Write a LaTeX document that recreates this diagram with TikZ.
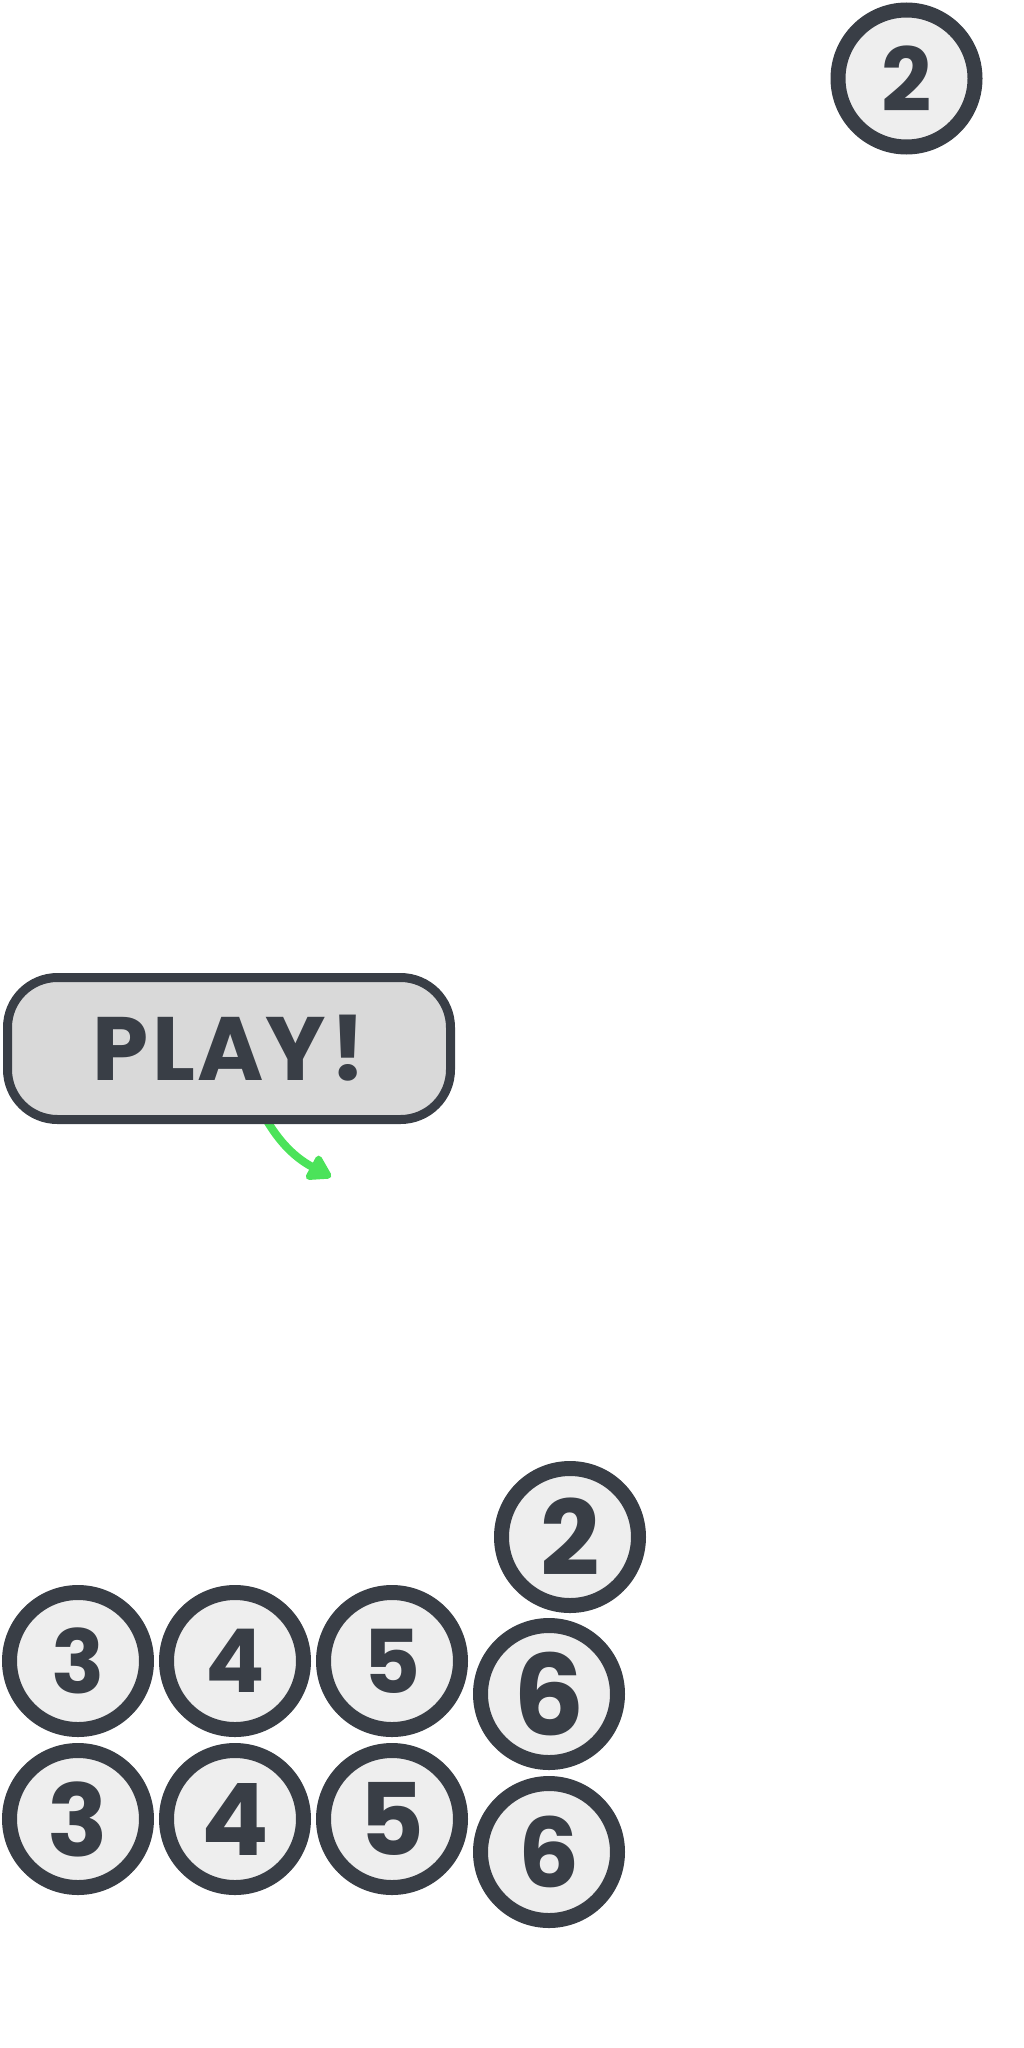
\documentclass[tikz,border=0pt]{standalone}
\usepackage{fontspec}
\setmainfont{Poppins}
\usetikzlibrary{arrows.meta}
\definecolor{ink}{HTML}{393E46}
\definecolor{ballfill}{HTML}{EEEEEE}
\definecolor{btnfill}{HTML}{D9D9D9}
\definecolor{arrowgreen}{HTML}{4BE35A}
\pgfdeclarelayer{background}
\pgfsetlayers{background,main}
\tikzset{
  ball/.style={circle, draw=ink, fill=ballfill, line width=15pt, minimum size=137pt, inner sep=0pt, text=ink, font=\bfseries\fontsize{#1}{#1}\selectfont},
  ball/.default=88,
  btn/.style={rectangle, rounded corners=50pt, draw=ink, fill=btnfill, line width=9pt, minimum width=443pt, minimum height=142pt, inner sep=0pt, text=ink, font=\bfseries\fontsize{90}{90}\selectfont},
  greenarrow/.style={draw=arrowgreen, line width=8pt, -{Triangle[length=26pt,width=30pt,round]}}
}
\begin{document}
\begin{tikzpicture}[x=1pt,y=-1pt]
\useasboundingbox (0,0) rectangle (1024,2048);
\node[ball] (topTwo) at (906.5,78.5) {2};
\node[btn] (play) at (229,1048.5) {P\kern4pt L\kern2pt A\kern2pt Y\kern4pt !};
\coordinate (astart) at (262,1112);
\coordinate (atip) at (331,1177);
\begin{pgfonlayer}{background}
\draw[greenarrow] (astart) .. controls (276,1138) and (292,1156) .. (atip);
\end{pgfonlayer}
\node[ball=104] (bTwo) at (570,1537) {2};
\node[ball] (rThreeA) at (78,1661) {3};
\node[ball] (rFourA) at (235,1661) {4};
\node[ball] (rFiveA) at (392,1661) {5};
\node[ball=112] (rSixA) at (549,1694) {6};
\node[ball=100] (rThreeB) at (78,1819) {3};
\node[ball=100] (rFourB) at (235,1819) {4};
\node[ball=100] (rFiveB) at (392,1819) {5};
\node[ball=96] (rSixB) at (549,1852) {6};
\end{tikzpicture}
\end{document}
